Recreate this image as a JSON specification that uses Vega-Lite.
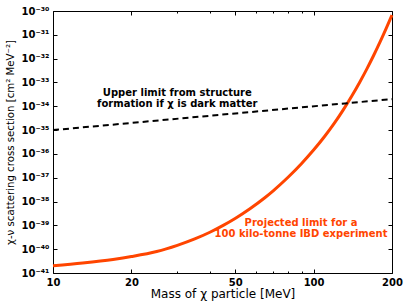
{
  "$schema": "https://vega.github.io/schema/vega-lite/v6.json",
  "width": 339,
  "height": 262,
  "autosize": "none",
  "padding": {"left": 53, "top": 11, "right": 15, "bottom": 35},
  "config": {
    "view": {"stroke": "black", "strokeWidth": 1},
    "axis": {
      "domain": false, "grid": false, "tickColor": "black", "tickWidth": 1,
      "labelFlush": false, "labelOverlap": false,
      "labelFont": "DejaVu Sans", "labelFontWeight": "bold", "labelFontSize": 10, "labelColor": "black",
      "titleFont": "DejaVu Sans", "titleFontWeight": "normal", "titleFontSize": 11, "titleColor": "black"
    }
  },
  "datasets": {
    "projected": [
      {"m": 10, "s": 2.0e-41}, {"m": 13, "s": 2.63e-41}, {"m": 17, "s": 3.72e-41},
      {"m": 20, "s": 4.9e-41}, {"m": 25, "s": 7.94e-41}, {"m": 30, "s": 1.45e-40},
      {"m": 35, "s": 2.69e-40}, {"m": 40, "s": 5.13e-40}, {"m": 45, "s": 1.0e-39},
      {"m": 50, "s": 1.95e-39}, {"m": 57, "s": 5.01e-39}, {"m": 65, "s": 1.45e-38},
      {"m": 70, "s": 2.82e-38}, {"m": 80, "s": 1.07e-37}, {"m": 90, "s": 3.98e-37},
      {"m": 100, "s": 1.45e-36}, {"m": 110, "s": 5.25e-36}, {"m": 120, "s": 1.91e-35},
      {"m": 130, "s": 7.08e-35}, {"m": 140, "s": 2.63e-34}, {"m": 150, "s": 9.77e-34},
      {"m": 160, "s": 3.63e-33}, {"m": 170, "s": 1.35e-32}, {"m": 180, "s": 5.01e-32},
      {"m": 190, "s": 1.86e-31}, {"m": 200, "s": 6.76e-31}
    ],
    "structure": [{"m": 10, "s": 1.0e-35}, {"m": 200, "s": 2.0e-34}],
    "note1": [{"m": 30, "s": 3.65e-34, "t": ["Upper limit from structure", "formation if χ is dark matter"]}],
    "note2": [{"m": 89.5, "s": 1.22e-39, "t": ["Projected limit for a", "100 kilo-tonne IBD experiment"]}]
  },
  "resolve": {"axis": {"x": "independent", "y": "independent"}},
  "layer": [
    {
      "data": {"name": "projected"},
      "mark": {"type": "line", "color": "#ff4500", "strokeWidth": 3, "interpolate": "monotone"},
      "encoding": {
        "x": {"field": "m", "type": "quantitative",
          "scale": {"type": "log", "domain": [10, 200], "nice": false},
          "axis": {"orient": "bottom", "values": [10, 20, 50, 100, 200], "format": "d",
            "tickSize": -4, "labelPadding": 8, "title": "Mass of χ particle [MeV]", "titleFontSize": 12, "titlePadding": 1}},
        "y": {"field": "s", "type": "quantitative",
          "scale": {"type": "log", "domain": [1e-41, 1e-30], "nice": false},
          "axis": {"orient": "left",
            "values": [1e-41, 1e-40, 1e-39, 1e-38, 1e-37, 1e-36, 1e-35, 1e-34, 1e-33, 1e-32, 1e-31, 1e-30],
            "labelExpr": "'10⁻' + ['⁰','¹','²','³','⁴','⁵','⁶','⁷','⁸','⁹'][floor(-round(log(datum.value)/LN10)/10)] + ['⁰','¹','²','³','⁴','⁵','⁶','⁷','⁸','⁹'][(-round(log(datum.value)/LN10)) % 10]",
            "tickSize": -4, "labelPadding": 8,
            "title": "χ-ν scattering cross section [cm² MeV⁻²]", "titleFontSize": 10.2, "titlePadding": 6}}
      }
    },
    {
      "data": {"name": "structure"},
      "mark": {"type": "line", "color": "black", "strokeWidth": 2, "strokeDash": [6, 4]},
      "encoding": {
        "x": {"field": "m", "type": "quantitative",
          "axis": {"orient": "top", "values": [10, 20, 50, 100, 200], "labels": false, "tickSize": -4, "title": null}},
        "y": {"field": "s", "type": "quantitative",
          "axis": {"orient": "right",
            "values": [1e-41, 1e-40, 1e-39, 1e-38, 1e-37, 1e-36, 1e-35, 1e-34, 1e-33, 1e-32, 1e-31, 1e-30],
            "labels": false, "tickSize": -4, "title": null}}
      }
    },
    {
      "data": {"name": "note1"},
      "mark": {"type": "text", "font": "DejaVu Sans", "fontWeight": "bold", "fontSize": 10, "color": "black", "align": "center", "baseline": "middle", "lineHeight": 11},
      "encoding": {
        "x": {"field": "m", "type": "quantitative",
          "axis": {"orient": "bottom", "values": [30, 40, 60, 70, 80, 90], "labels": false, "tickSize": -2, "title": null}},
        "y": {"field": "s", "type": "quantitative", "axis": null},
        "text": {"field": "t"}
      }
    },
    {
      "data": {"name": "note2"},
      "mark": {"type": "text", "font": "DejaVu Sans", "fontWeight": "bold", "fontSize": 10, "color": "#ff4500", "align": "center", "baseline": "middle", "lineHeight": 11},
      "encoding": {
        "x": {"field": "m", "type": "quantitative",
          "axis": {"orient": "top", "values": [30, 40, 60, 70, 80, 90], "labels": false, "tickSize": -2, "title": null}},
        "y": {"field": "s", "type": "quantitative", "axis": null},
        "text": {"field": "t"}
      }
    }
  ]
}
